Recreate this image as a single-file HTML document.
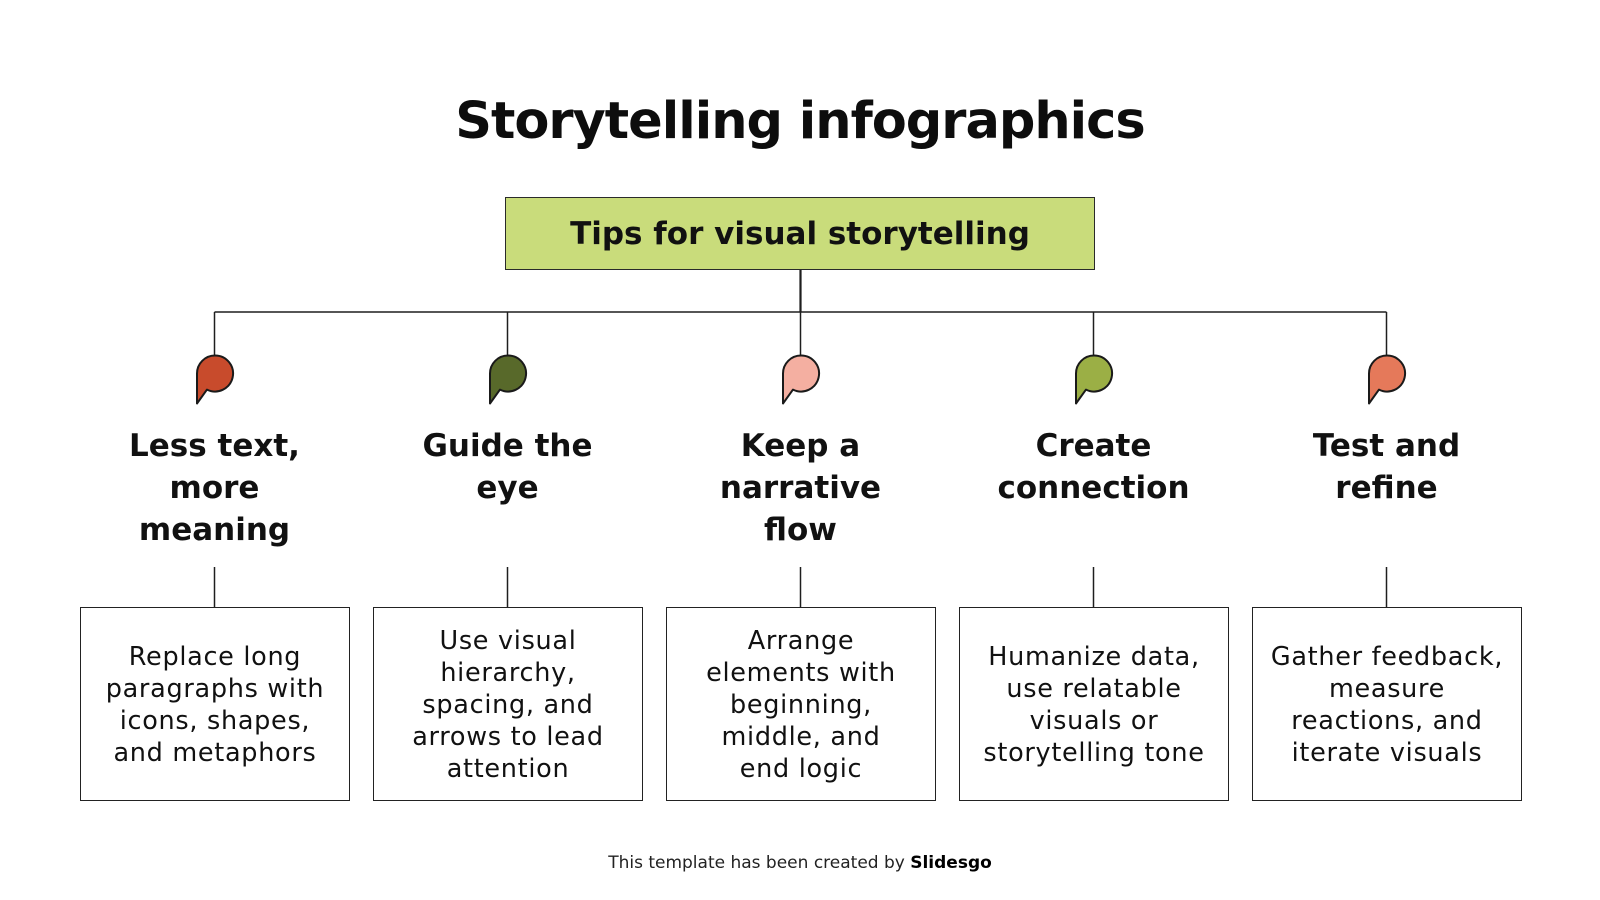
<!DOCTYPE html>
<html>
<head>
<meta charset="utf-8">
<style>
  html, body { margin: 0; padding: 0; }
  body { width: 1600px; height: 900px; background: #ffffff; position: relative; overflow: hidden; font-family: "DejaVu Sans", "Liberation Sans", sans-serif; color: #111; }
  .abs { position: absolute; }
  .title { left: 0; width: 1600px; top: 92px; text-align: center; font-size: 51px; line-height: 60px; font-weight: bold; letter-spacing: -1px; color: #0d0d0d; }
  .mainbox { left: 505px; top: 197px; width: 590px; height: 73px; box-sizing: border-box; background: #c9dc7b; border: 1.5px solid #2a2a2a; }
  .maintext { left: 505px; width: 590px; top: 214px; text-align: center; font-size: 31px; line-height: 40px; font-weight: bold; color: #111; }
  .head { top: 425px; width: 280px; text-align: center; font-size: 31px; line-height: 42px; font-weight: bold; color: #111; }
  .card { top: 607px; width: 270px; height: 194px; box-sizing: border-box; border: 1.5px solid #222; display: flex; align-items: center; justify-content: center; text-align: center; font-size: 25.5px; letter-spacing: 0.7px; line-height: 32px; color: #111; padding-top: 2px; }
  .footer { left: 0; width: 1600px; top: 853px; text-align: center; font-size: 17px; line-height: 20px; color: #222; }
  .footer b { color: #000; }
</style>
</head>
<body>
  <div class="abs title">Storytelling infographics</div>

  <div class="abs mainbox"></div>
  <div class="abs maintext">Tips for visual storytelling</div>

  <svg class="abs" style="left:0;top:0" width="1600" height="900" viewBox="0 0 1600 900">
    <g stroke="#1e1e1e" fill="none">
      <line x1="800.5" y1="270" x2="800.5" y2="312" stroke-width="2.2"/>
      <line x1="214.5" y1="312" x2="1386.5" y2="312" stroke-width="1.6"/>
      <line x1="214.5" y1="312" x2="214.5" y2="356" stroke-width="1.5"/>
      <line x1="507.5" y1="312" x2="507.5" y2="356" stroke-width="1.5"/>
      <line x1="800.5" y1="312" x2="800.5" y2="356" stroke-width="1.5"/>
      <line x1="1093.5" y1="312" x2="1093.5" y2="356" stroke-width="1.5"/>
      <line x1="1386.5" y1="312" x2="1386.5" y2="356" stroke-width="1.5"/>

      <line x1="214.5" y1="567" x2="214.5" y2="607" stroke-width="1.5"/>
      <line x1="507.5" y1="567" x2="507.5" y2="607" stroke-width="1.5"/>
      <line x1="800.5" y1="567" x2="800.5" y2="607" stroke-width="1.5"/>
      <line x1="1093.5" y1="567" x2="1093.5" y2="607" stroke-width="1.5"/>
      <line x1="1386.5" y1="567" x2="1386.5" y2="607" stroke-width="1.5"/>
    </g>
    <g stroke="#1a1a1a" stroke-width="2" stroke-linejoin="round">
      <path transform="translate(215,373.5)" fill="#c84b2c" d="M0,-18 A18,18 0 1 1 -8,16.1 L-18,30 L-18,0 A18,18 0 0 1 0,-18 Z"/>
      <path transform="translate(508,373.5)" fill="#58692a" d="M0,-18 A18,18 0 1 1 -8,16.1 L-18,30 L-18,0 A18,18 0 0 1 0,-18 Z"/>
      <path transform="translate(801,373.5)" fill="#f4afa1" d="M0,-18 A18,18 0 1 1 -8,16.1 L-18,30 L-18,0 A18,18 0 0 1 0,-18 Z"/>
      <path transform="translate(1094,373.5)" fill="#9baf45" d="M0,-18 A18,18 0 1 1 -8,16.1 L-18,30 L-18,0 A18,18 0 0 1 0,-18 Z"/>
      <path transform="translate(1387,373.5)" fill="#e5795a" d="M0,-18 A18,18 0 1 1 -8,16.1 L-18,30 L-18,0 A18,18 0 0 1 0,-18 Z"/>
    </g>
  </svg>

  <div class="abs head" style="left:74.5px">Less text,<br>more<br>meaning</div>
  <div class="abs head" style="left:367.5px">Guide the<br>eye</div>
  <div class="abs head" style="left:660.5px">Keep a<br>narrative<br>flow</div>
  <div class="abs head" style="left:953.5px">Create<br>connection</div>
  <div class="abs head" style="left:1246.5px">Test and<br>refine</div>

  <div class="abs card" style="left:80px">Replace long<br>paragraphs with<br>icons, shapes,<br>and metaphors</div>
  <div class="abs card" style="left:373px">Use visual<br>hierarchy,<br>spacing, and<br>arrows to lead<br>attention</div>
  <div class="abs card" style="left:666px">Arrange<br>elements with<br>beginning,<br>middle, and<br>end logic</div>
  <div class="abs card" style="left:959px">Humanize data,<br>use relatable<br>visuals or<br>storytelling tone</div>
  <div class="abs card" style="left:1252px">Gather feedback,<br>measure<br>reactions, and<br>iterate visuals</div>

  <div class="abs footer">This template has been created by <b>Slidesgo</b></div>
</body>
</html>
